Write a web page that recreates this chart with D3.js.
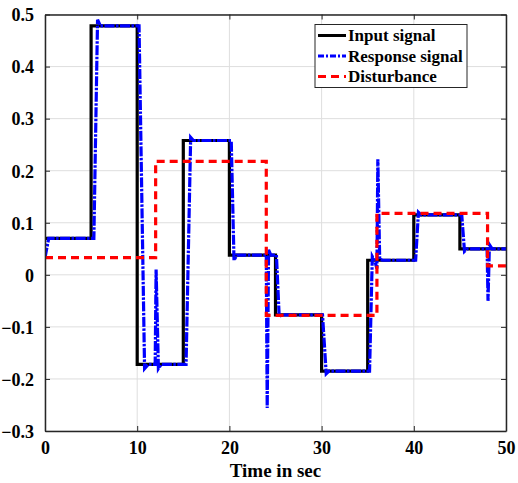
<!DOCTYPE html>
<html>
<head>
<meta charset="utf-8">
<script src="https://cdn.jsdelivr.net/npm/d3@7"></script>
<style>
  body { margin: 0; background: #fff; }
  text { font-family: "Liberation Serif", "Times New Roman", serif; font-weight: bold; fill: #000; }
</style>
</head>
<body>
<div id="chart"></div>
<script>
// Input signal: step start times and levels
const inputT = [0, 5, 10, 15, 20, 25, 30, 35, 40, 45, 50];
const inputV = [0.07, 0.478, -0.172, 0.258, 0.038, -0.077, -0.185, 0.028, 0.115, 0.05, 0.05];

// Disturbance: step start times and levels
const distT = [0, 12, 24, 36, 48, 50];
const distV = [0.033, 0.218, -0.078, 0.118, 0.017, 0.017];

// Response signal samples (time, value)
const respT = [0, 0.4, 5.3, 5.7, 6.0, 10.2, 10.8, 11.2, 11.95, 12.05, 12.3, 12.6, 15.3, 15.8, 16.1,
  20.2, 20.5, 20.8, 24.0, 24.1, 24.25, 24.5, 25.1, 25.4, 25.7, 30.1, 30.5, 30.8, 35.2, 35.5, 35.8,
  36.0, 36.1, 36.3, 36.6, 40.2, 40.5, 40.8, 45.2, 45.5, 45.8, 47.95, 48.05, 48.2, 48.5, 50];
const respV = [0.033, 0.07, 0.07, 0.49, 0.478, 0.478, -0.18, -0.172, -0.172, 0.01, -0.18, -0.172, -0.172, 0.264, 0.258,
  0.258, 0.028, 0.038, 0.038, -0.256, 0.048, 0.038, 0.038, -0.08, -0.077, -0.077, -0.19, -0.185, -0.185, 0.035, 0.025,
  0.012, 0.222, 0.03, 0.028, 0.028, 0.12, 0.115, 0.115, 0.045, 0.05, 0.05, -0.05, 0.058, 0.05, 0.05];

const xTicks = [0, 10, 20, 30, 40, 50];
const yTicks = [-0.3, -0.2, -0.1, 0, 0.1, 0.2, 0.3, 0.4, 0.5];
const legendLabels = ['Input signal', 'Response signal', 'Disturbance'];

const W = 518, H = 483;
const margin = { top: 14.5, right: 12, bottom: 52, left: 45 };
const width = W - margin.left - margin.right;
const height = H - margin.top - margin.bottom;

const svg = d3.select('#chart').append('svg')
  .attr('width', W)
  .attr('height', H);

const g = svg.append('g')
  .attr('transform', `translate(${margin.left},${margin.top})`);

const x = d3.scaleLinear().domain([0, 50]).range([0, width]);
const y = d3.scaleLinear().domain([-0.3, 0.5]).range([height, 0]);

// Grid
g.append('g').selectAll('line')
  .data(xTicks)
  .enter().append('line')
  .attr('x1', d => x(d)).attr('x2', d => x(d))
  .attr('y1', 0).attr('y2', height)
  .attr('stroke', '#dedede').attr('stroke-width', 1);
g.append('g').selectAll('line')
  .data(yTicks)
  .enter().append('line')
  .attr('x1', 0).attr('x2', width)
  .attr('y1', d => y(d)).attr('y2', d => y(d))
  .attr('stroke', '#dedede').attr('stroke-width', 1);

g.append('clipPath').attr('id', 'clip')
  .append('rect').attr('width', width).attr('height', height);

const plot = g.append('g').attr('clip-path', 'url(#clip)');

const stepLine = d3.line()
  .x(d => x(d[0]))
  .y(d => y(d[1]))
  .curve(d3.curveStepAfter);
const line = d3.line()
  .x(d => x(d[0]))
  .y(d => y(d[1]));

plot.append('path')
  .datum(inputT.map((t, i) => [t, inputV[i]]))
  .attr('d', stepLine)
  .attr('fill', 'none')
  .attr('stroke', '#000')
  .attr('stroke-width', 3.2);

plot.append('path')
  .datum(respT.map((t, i) => [t, respV[i]]))
  .attr('d', line)
  .attr('fill', 'none')
  .attr('stroke', '#0000ff')
  .attr('stroke-width', 3.2)
  .attr('stroke-dasharray', '10,1.5,2.5,1.5');

plot.append('path')
  .datum(distT.map((t, i) => [t, distV[i]]))
  .attr('d', stepLine)
  .attr('fill', 'none')
  .attr('stroke', '#ff0000')
  .attr('stroke-width', 3.2)
  .attr('stroke-dasharray', '8,5');

// Axes (ticks inside, box on)
const axisColor = '#262626';
const xAxis = g.append('g')
  .attr('transform', `translate(0,${height})`)
  .call(d3.axisBottom(x).tickValues(xTicks).tickSizeInner(-5).tickSizeOuter(0).tickPadding(10).tickFormat(d3.format('d')));
const yAxis = g.append('g')
  .call(d3.axisLeft(y).tickValues(yTicks).tickSizeInner(-5).tickSizeOuter(0).tickPadding(11)
    .tickFormat(d => d === 0 ? '0' : d3.format('.1f')(d)));
g.append('g')
  .call(d3.axisTop(x).tickValues(xTicks).tickSizeInner(-5).tickSizeOuter(0).tickFormat(''));
g.append('g')
  .attr('transform', `translate(${width},0)`)
  .call(d3.axisRight(y).tickValues(yTicks).tickSizeInner(-5).tickSizeOuter(0).tickFormat(''));

g.selectAll('.domain').attr('stroke', axisColor).attr('stroke-width', 1.5);
g.selectAll('.tick line').attr('stroke', axisColor);
xAxis.selectAll('text').style('font-size', '18px').attr('fill', '#1a1a1a');
yAxis.selectAll('text').style('font-size', '18px').attr('fill', '#1a1a1a').attr('dy', '0.35em');

g.append('text')
  .attr('x', width / 2)
  .attr('y', height + 46)
  .attr('text-anchor', 'middle')
  .style('font-size', '19px')
  .text('Time in sec');

// Legend
const legend = svg.append('g').attr('transform', 'translate(315,24.5)');
legend.append('rect')
  .attr('width', 152).attr('height', 63)
  .attr('fill', '#fff')
  .attr('stroke', axisColor).attr('stroke-width', 1);
const styles = [
  { color: '#000', dash: null },
  { color: '#0000ff', dash: '6,2,2,2' },
  { color: '#ff0000', dash: '8,5' }
];
const rows = legend.selectAll('.row')
  .data(legendLabels)
  .enter().append('g')
  .attr('class', 'row')
  .attr('transform', (d, i) => `translate(0,${11 + i * 20.5})`);
rows.append('line')
  .attr('x1', 3).attr('x2', 31)
  .attr('stroke', (d, i) => styles[i].color)
  .attr('stroke-width', 3)
  .attr('stroke-dasharray', (d, i) => styles[i].dash);
rows.append('text')
  .attr('x', 33)
  .attr('dy', '0.35em')
  .style('font-size', '17px')
  .text(d => d);
</script>
</body>
</html>
